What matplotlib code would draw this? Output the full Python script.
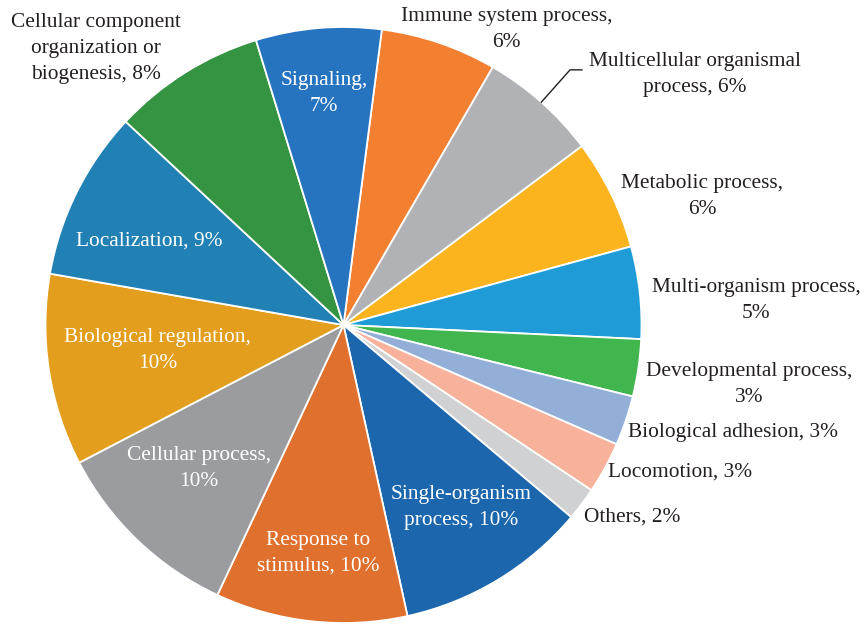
import numpy as np
import matplotlib.pyplot as plt

# GO biological process categories, share of annotated genes (%), clockwise
names = [
    'Immune system process,\n',
    'Multicellular organismal\nprocess, ',
    'Metabolic process,\n',
    'Multi-organism process,\n',
    'Developmental process,\n',
    'Biological adhesion, ',
    'Locomotion, ',
    'Others, ',
    'Single-organism\nprocess, ',
    'Response to\nstimulus, ',
    'Cellular process,\n',
    'Biological regulation,\n',
    'Localization, ',
    'Cellular component\norganization or\nbiogenesis, ',
    'Signaling,\n',
]
shares = [6.3, 6.4, 6.0, 5.0, 3.1, 2.7, 2.8, 1.8, 10.4, 10.4, 10.4, 10.4, 9.2, 8.3, 6.8]

colors = ['#F37F31', '#B1B2B5', '#FBB41D', '#1F9CD8', '#41B64F', '#93AFD8',
          '#F8B19A', '#D0D1D3', '#1B66AD', '#E0702D', '#9B9CA0', '#E29E1C',
          '#2281B4', '#349441', '#2673BF']

# label placement: radial distance, angle nudge (deg), inside the wedge or not
label_r = [1.132, 1.447, 1.279, 1.387, 1.375, 1.355, 1.232, 1.164,
           0.73, 0.77, 0.685, 0.63, 0.71, 1.245, 0.78]
label_nudge = [-10.2, -12.95, -6.35, -2.85, 0, 3.3, 4.95, 3.4,
               1.75, 0, -1.4, -1, 3, 9.75, 0]
inside = [False] * 8 + [True] * 5 + [False, True]

plt.rcParams['font.family'] = ['Liberation Serif', 'DejaVu Serif']

fig = plt.figure(figsize=(8.64, 6.24), dpi=100)
ax = fig.add_axes([45.5 / 864, 1 / 624, 596 / 864, 596 / 624])

wedges, _ = ax.pie(shares, colors=colors, startangle=82.6, counterclock=False,
                   radius=1, wedgeprops=dict(edgecolor='white', linewidth=1.3))
ax.set_xlim(-1, 1)
ax.set_ylim(-1, 1)

for i, w in enumerate(wedges):
    mid = (w.theta1 + w.theta2) / 2
    ang = np.deg2rad(mid + label_nudge[i])
    x, y = label_r[i] * np.cos(ang), label_r[i] * np.sin(ang)
    txt = names[i] + f'{shares[i]:.0f}%'
    ax.text(x, y, txt, ha='center', va='center', multialignment='center',
            fontsize=15.4, linespacing=1.5,
            color='white' if inside[i] else '#231F20', clip_on=False)

# leader line for the multicellular label
m = np.deg2rad((wedges[1].theta1 + wedges[1].theta2) / 2)
ex, ey = 1.145 * np.cos(m), 1.145 * np.sin(m)
ax.plot([np.cos(m), ex, ex + 0.04], [np.sin(m), ey, ey], color='#231F20',
        lw=1.0, clip_on=False)

fig.savefig('out.png', dpi=100)
